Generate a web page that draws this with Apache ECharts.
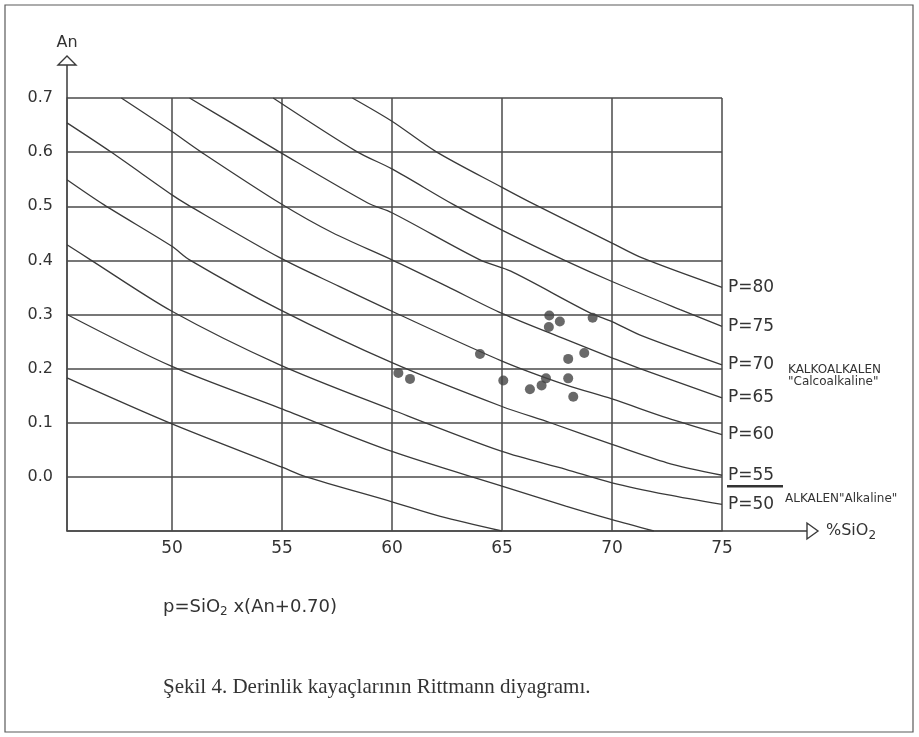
<!DOCTYPE html>
<html><head><meta charset="utf-8">
<script src="https://cdn.jsdelivr.net/npm/echarts@6/dist/echarts.min.js"></script>
<style>html,body{margin:0;padding:0;background:#fff}#c{width:919px;height:737px}</style>
</head><body><div id="c"></div>
<script>
// ---- data ----
const xLabelValues = [50, 55, 60, 65, 70, 75];
const yLabelValues = [0.0, 0.1, 0.2, 0.3, 0.4, 0.5, 0.6, 0.7];
const curveNames = ['P=80', 'P=75', 'P=70', 'P=65', 'P=60', 'P=55', 'P=50', 'P=45', 'P=40'];
const curveShowLabel = [true, true, true, true, true, true, true, false, false];
const p80 = [[58.2,0.70],[60,0.657],[62,0.601],[65,0.535],[66.5,0.503],[70,0.432],[71.4,0.404],[75,0.35]];
const p75 = [[54.6,0.70],[58.4,0.601],[60,0.569],[62.8,0.503],[65,0.456],[67.9,0.399],[70,0.361],[73.1,0.309],[75,0.278]];
const p70 = [[50.8,0.70],[52.7,0.654],[54.9,0.600],[58.9,0.506],[60,0.488],[64,0.401],[65.4,0.380],[69,0.303],[70,0.287],[71.4,0.260],[75,0.207]];
const p65 = [[47.7,0.70],[50,0.638],[51.3,0.601],[54.9,0.506],[57.3,0.451],[60,0.401],[62.5,0.352],[65,0.302],[67.9,0.254],[70,0.220],[71.4,0.198],[75,0.146]];
const p60 = [[45.23,0.654],[47.2,0.601],[50,0.521],[50.7,0.503],[54.9,0.405],[57.6,0.352],[60,0.306],[65,0.214],[67.9,0.170],[70,0.144],[72.5,0.109],[75,0.078]];
const p55 = [[45.23,0.549],[46.9,0.503],[50,0.426],[50.8,0.401],[54.9,0.309],[60,0.211],[65,0.130],[67.2,0.100],[70,0.060],[72.5,0.026],[75,0.003]];
const p50 = [[45.23,0.429],[46.3,0.401],[50,0.306],[54.9,0.207],[60,0.124],[65,0.047],[67.9,0.014],[70,-0.011],[72.5,-0.033],[75,-0.051]];
const p45 = [[45.23,0.300],[50,0.204],[54.9,0.127],[60,0.047],[65,-0.017],[67.9,-0.054],[70,-0.079],[71.9,-0.1]];
const p40 = [[45.23,0.183],[50,0.098],[55,0.018],[56.1,0.0],[60,-0.046],[62.2,-0.073],[65,-0.1]];
const curves = [p80, p75, p70, p65, p60, p55, p50, p45, p40];
const samples = [[60.29,0.192],[60.82,0.181],[64.0,0.227],[65.06,0.178],[66.27,0.162],[66.8,0.169],[67.0,0.182],
  [67.15,0.298],[67.63,0.287],[67.13,0.277],[69.12,0.294],[68.74,0.229],[68.01,0.218],[68.01,0.182],[68.24,0.148]];
const xMin = 45.23, xMax = 75, yMin = -0.1, yMax = 0.7;

// ---- chart ----
const ink = '#3a3a3a';
const font = 'DejaVu Sans';
const chart = echarts.init(document.getElementById('c'), null, {renderer: 'canvas'});
const lineSeries = curves.map((d, i) => ({
  type: 'line', name: curveNames[i], data: d, showSymbol: false, symbol: 'none',
  smooth: 0.3, silent: true,
  lineStyle: {color: ink, width: 1.3},
  endLabel: {show: curveShowLabel[i], formatter: curveNames[i], color: '#333', fontSize: 17,
    fontFamily: font, distance: 6},
  z: 3
}));
const gl = {color: '#4a4a4a', width: 1.5};
chart.setOption({
  animation: false,
  backgroundColor: '#ffffff',
  grid: {left: 67, right: 197, top: 98, bottom: 206, containLabel: false},
  xAxis: {type: 'value', min: xMin, max: xMax, splitNumber: 6,
    axisLine: {show: true, onZero: false, lineStyle: gl},
    axisTick: {show: false},
    splitLine: {show: true, lineStyle: gl},
    axisLabel: {margin: 9, color: '#333', fontSize: 17, fontFamily: font,
      formatter: v => xLabelValues.some(t => Math.abs(t - v) < 1e-6) ? String(Math.round(v)) : ''}
  },
  yAxis: {type: 'value', min: yMin, max: yMax, interval: 0.1,
    axisLine: {show: true, onZero: false, lineStyle: gl},
    axisTick: {show: false},
    splitLine: {show: true, lineStyle: gl},
    axisLabel: {margin: 14, color: '#333', fontSize: 16, fontFamily: font,
      formatter: v => yLabelValues.some(t => Math.abs(t - v) < 1e-6) ? v.toFixed(1) : ''}
  },
  series: lineSeries.concat([{
    type: 'scatter', data: samples, symbol: 'circle', symbolSize: 10,
    itemStyle: {color: '#444'}, z: 5, silent: true
  }])
});

// ---- decorations (axis arrows, annotations, caption, frame) ----
const bl = chart.convertToPixel({gridIndex: 0}, [xMax, yMin]);
const tl = chart.convertToPixel({gridIndex: 0}, [xMin, yMax]);
const ax = bl[0], ay = bl[1], lx = tl[0], ty = tl[1];
const p55end = chart.convertToPixel({gridIndex: 0}, p55[p55.length - 1]);
const p70end = chart.convertToPixel({gridIndex: 0}, p70[p70.length - 1]);
const p50end = chart.convertToPixel({gridIndex: 0}, p50[p50.length - 1]);
const stroke = {stroke: '#3a3a3a', lineWidth: 1.5, fill: null};
chart.setOption({graphic: [
  {type: 'rect', shape: {x: 5, y: 5, width: 908, height: 727}, style: {stroke: '#5a5a5a', lineWidth: 1.2, fill: null}, silent: true},
  // x axis extension + open arrow
  {type: 'line', shape: {x1: ax, y1: ay, x2: ax + 85, y2: ay}, style: stroke, silent: true},
  {type: 'polygon', shape: {points: [[ax + 85, ay - 8], [ax + 85, ay + 8], [ax + 96, ay]]}, style: {stroke: '#3a3a3a', lineWidth: 1.4, fill: '#fff'}, silent: true},
  {type: 'text', x: ax + 104, y: ay, style: {
    text: '{a|%SiO}{b|2}', textVerticalAlign: 'middle', rich: {
      a: {fontSize: 16, fontFamily: font, fill: '#333'},
      b: {fontSize: 12, fontFamily: font, fill: '#333', padding: [10, 0, 0, 0]}}}, silent: true},
  // y axis extension + open arrow
  {type: 'line', shape: {x1: lx, y1: ty, x2: lx, y2: ty - 33}, style: stroke, silent: true},
  {type: 'polygon', shape: {points: [[lx - 9, ty - 33], [lx + 9, ty - 33], [lx, ty - 42]]}, style: {stroke: '#3a3a3a', lineWidth: 1.4, fill: '#fff'}, silent: true},
  {type: 'text', x: lx, y: ty - 55, style: {text: 'An', fontSize: 16, fontFamily: font, fill: '#333', textAlign: 'center', textVerticalAlign: 'middle'}, silent: true},
  // underline under P=55
  {type: 'line', shape: {x1: p55end[0] + 5, y1: p55end[1] + 11, x2: p55end[0] + 61, y2: p55end[1] + 11}, style: {stroke: '#333', lineWidth: 2.5}, silent: true},
  // series annotations
  {type: 'text', x: p70end[0] + 66, y: p70end[1] + 5, style: {text: 'KALKOALKALEN', fontSize: 12, fontFamily: font, fill: '#333', textVerticalAlign: 'middle'}, silent: true},
  {type: 'text', x: p70end[0] + 66, y: p70end[1] + 17, style: {text: '"Calcoalkaline"', fontSize: 12, fontFamily: font, fill: '#333', textVerticalAlign: 'middle'}, silent: true},
  {type: 'text', x: p50end[0] + 63, y: p50end[1] - 6, style: {text: 'ALKALEN"Alkaline"', fontSize: 12, fontFamily: font, fill: '#333', textVerticalAlign: 'middle'}, silent: true},
  // formula
  {type: 'text', x: 163, y: 607, style: {
    text: '{a|p=SiO}{b|2}{a| x(An+0.70)}', textVerticalAlign: 'middle', rich: {
      a: {fontSize: 18, fontFamily: font, fill: '#333'},
      b: {fontSize: 12, fontFamily: font, fill: '#333', padding: [10, 0, 0, 0]}}}, silent: true},
  // caption
  {type: 'text', x: 163, y: 687, style: {text: 'Şekil 4. Derinlik kayaçlarının Rittmann diyagramı.', fontSize: 21, fontFamily: 'Liberation Serif', fill: '#333', textVerticalAlign: 'middle'}, silent: true}
]});
</script></body></html>
